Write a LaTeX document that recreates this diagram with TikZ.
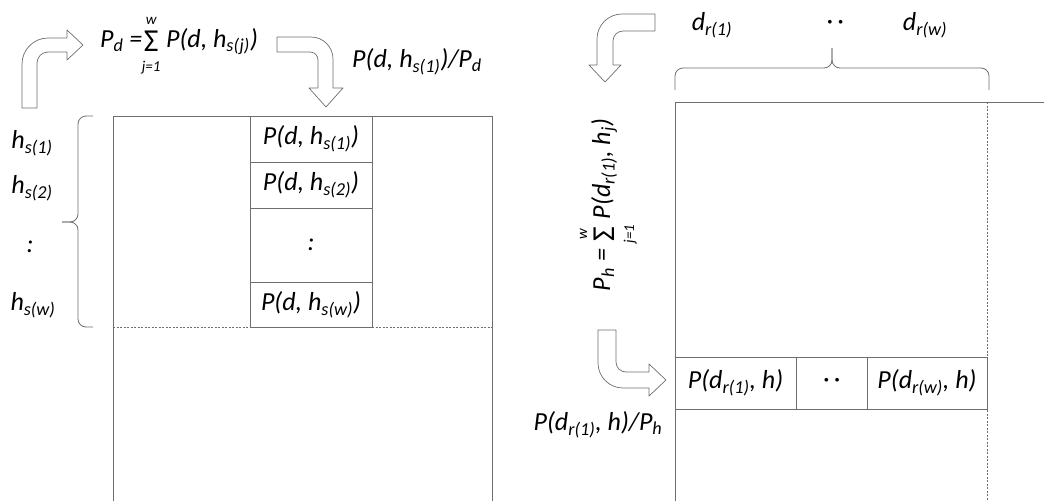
\documentclass[tikz,border=0pt]{standalone}
\usepackage{fontspec}
\setmainfont{Carlito}
\usepackage{tikz}
\usetikzlibrary{positioning}
\definecolor{edge}{HTML}{6E6E6E}
\newcommand{\sumlim}[2]{\rlap{\makebox[18pt]{\raisebox{23pt}{\fontsize{15}{15}\selectfont #1}}}\rlap{\makebox[18pt]{\raisebox{-24pt}{\fontsize{15}{15}\selectfont #2}}}\makebox[18pt]{\raisebox{-4pt}{\upshape\fontsize{32}{32}\selectfont Σ}}}

\begin{document}
\begin{tikzpicture}[
    x=1pt, y=-1pt,
    node distance=0pt,
    every node/.style={font=\fontsize{26}{31}\selectfont\itshape, inner sep=0pt, outer sep=0pt},
    cell/.style={rectangle, draw=edge, line width=0.8pt, minimum height=46pt},
    frame/.style={draw=edge, line width=0.8pt},
    hollow/.style={draw=edge, line width=0.7pt, line join=round},
    bracer/.style={draw=edge, line width=0.8pt, rounded corners=8pt}
]
    \useasboundingbox (0,0) rectangle (1044,501);

    % Left matrix
    \draw [frame] (113,501) -- (113,116) -- (492,116) -- (492,501);
    \node (c1) [cell, minimum width=122pt] at (311,139) {P(d, h\textsubscript{s(1)})};
    \node (c2) [cell, minimum width=122pt, below=of c1] {P(d, h\textsubscript{s(2)})};
    \node (c3) [cell, minimum width=122pt, minimum height=74pt, below=of c2] {:};
    \node (c4) [cell, minimum width=122pt, minimum height=45pt, below=of c3] {P(d, h\textsubscript{s(w)})};
    \draw [frame, dash pattern=on 2pt off 1.5pt] (113,327) -- (c4.south west);
    \draw [frame, dash pattern=on 2pt off 1.5pt] (c4.south east) -- (492,327);

    % Row labels and brace
    \node (hs1) at (32,143) {h\textsubscript{s(1)}};
    \node (hs2) at (32,188) {h\textsubscript{s(2)}};
    \node (hdots) at (30,247) {:};
    \node (hsw) at (33,305) {h\textsubscript{s(w)}};
    \draw [bracer] (93,116) -- (78,116) -- (78,222) -- (62,222);
    \draw [bracer] (93,327) -- (78,327) -- (78,222) -- (62,222);

    % Top formulas
    \node (pd) [anchor=base] at (179,47) {P\textsubscript{d} =\sumlim{w}{j=1} P(d, h\textsubscript{s(j)})};
    \node (pdratio) at (417,62) {P(d, h\textsubscript{s(1)})/P\textsubscript{d}};

    % Hollow arrows (left)
    \draw [hollow] (22,108) -- (22,64) arc[start angle=180, end angle=270, radius=26]
        -- (67,38) -- (67,30) -- (83,45) -- (67,60) -- (67,52) -- (48,52)
        arc[start angle=270, end angle=180, radius=11] -- (37,108) -- cycle;
    \draw [hollow] (277,37) -- (311,37) arc[start angle=270, end angle=360, radius=22]
        -- (333,88) -- (343,88) -- (326,107) -- (309,88) -- (318,88) -- (318,60)
        arc[start angle=0, end angle=-90, radius=8] -- (277,52) -- cycle;

    % Right matrix
    \draw [frame] (675,501) -- (675,102) -- (1044,102);
    \draw [frame, dash pattern=on 2pt off 1.5pt] (987,102) -- (987,501);
    \node (r1) [cell, minimum width=121pt, minimum height=52pt] at (735.5,383) {P(d\textsubscript{r(1)}, h)};
    \node (r2) [cell, minimum width=71pt, minimum height=52pt, right=of r1] {·\,·};
    \node (r3) [cell, minimum width=120pt, minimum height=52pt, right=of r2] {P(d\textsubscript{r(w)}, h)};

    % Column labels and brace
    \node (dr1) at (712,25) {d\textsubscript{r(1)}};
    \node (ddots) at (835,25) {·\,·};
    \node (drw) at (925,25) {d\textsubscript{r(w)}};
    \draw [bracer] (675,90) -- (675,68) -- (832,68) -- (832,48);
    \draw [bracer] (989,90) -- (989,68) -- (832,68) -- (832,48);

    % Side formulas
    \node (ph) [anchor=base, rotate=90] at (610,205) {P\textsubscript{h} = \sumlim{w}{j=1} P(d\textsubscript{r(1)}, h\textsubscript{j})};
    \node (phratio) at (598,425) {P(d\textsubscript{r(1)}, h)/P\textsubscript{h}};

    % Hollow arrows (right)
    \draw [hollow] (655,14) -- (622,14) arc[start angle=270, end angle=180, radius=25]
        -- (597,65) -- (589,65) -- (605,82) -- (621,65) -- (613,65) -- (613,41)
        arc[start angle=180, end angle=270, radius=10] -- (655,31) -- cycle;
    \draw [hollow] (598,330) -- (598,363) arc[start angle=180, end angle=90, radius=25]
        -- (649,388) -- (649,396) -- (666,380) -- (649,364) -- (649,372) -- (626,372)
        arc[start angle=90, end angle=180, radius=10] -- (616,330) -- cycle;
\end{tikzpicture}
\end{document}
